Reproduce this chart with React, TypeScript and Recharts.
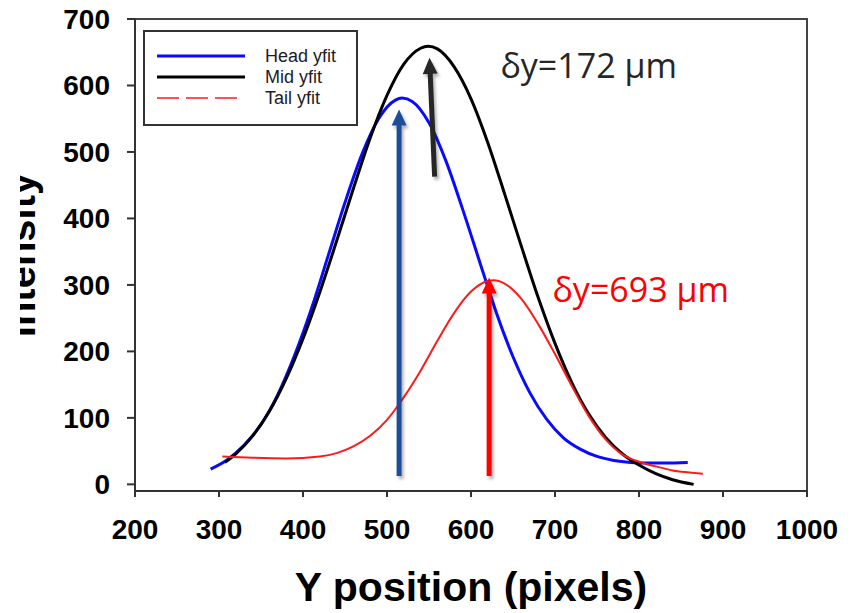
import React from 'react';
import {
  LineChart,
  Line,
  XAxis,
  YAxis,
  Legend,
  ReferenceLine,
  ReferenceArea,
  ReferenceDot,
  Label,
} from 'recharts';

// Gaussian fits of the intensity profile along Y, one per body segment
const headX = [290, 310, 330, 350, 370, 390, 410, 430, 450, 470, 490, 510, 518, 530, 550, 570, 590, 610, 620, 630, 650, 670, 690, 710, 730, 750, 770, 790, 810, 830, 858];
const headY = [23, 37, 59, 90, 135, 194, 264, 344, 424, 496, 550, 578, 581, 576, 544, 487, 414, 336, 297, 259, 192, 138, 98, 70, 53, 42, 36, 33, 32, 32, 33];

const midX = [307, 320, 340, 360, 380, 400, 420, 440, 460, 480, 500, 520, 540, 549, 560, 580, 600, 620, 640, 660, 680, 700, 720, 740, 760, 780, 800, 820, 840, 865];
const midY = [33, 46, 73, 110, 159, 219, 289, 366, 445, 521, 585, 632, 656, 659, 655, 628, 580, 514, 437, 358, 281, 212, 153, 106, 71, 46, 29, 16, 7, 0];

const tailX = [304, 340, 380, 420, 440, 460, 480, 500, 520, 540, 560, 580, 600, 620, 627, 640, 660, 680, 700, 720, 740, 760, 780, 800, 820, 840, 860, 876];
const tailY = [42, 40, 39, 42, 47, 57, 73, 97, 131, 171, 216, 258, 290, 306, 307, 302, 279, 241, 196, 148, 103, 68, 45, 34, 27, 21, 18, 16];

const xTicks = [200, 300, 400, 500, 600, 700, 800, 900, 1000];
const yTicks = [0, 100, 200, 300, 400, 500, 600, 700];

// Peak-marking arrows: tail point -> tip point, in data units
const arrowFromX = [514.4, 556.7, 621.6];
const arrowFromY = [12.5, 462.8, 12.5];
const arrowToX = [514.4, 550.6, 621.6];
const arrowToY = [563.7, 641.6, 311];
const arrowColors = ['#1f4e99', '#262626', '#ff0000'];

// Peak shift annotations (text start, baseline) in data units
const shiftText = ['δy=172 µm', 'δy=693 µm'];
const shiftX = [635, 697];
const shiftY = [612, 274.5];
const shiftColors = ['#262626', '#ff0000'];

const toPoints = (xs: number[], ys: number[]) => xs.map((x, i) => ({ x, y: ys[i] }));
const headData = toPoints(headX, headY);
const midData = toPoints(midX, midY);
const tailData = toPoints(tailX, tailY);

const AXIS_FONT = '"Liberation Sans", Arial, sans-serif';

const legendDash: Record<string, string | undefined> = {
  'Head yfit': undefined,
  'Mid yfit': undefined,
  'Tail yfit': '22 7',
};
const legendWidth: Record<string, number> = {
  'Head yfit': 3,
  'Mid yfit': 3,
  'Tail yfit': 1.6,
};

function renderLegend(props: any) {
  const payload = props.payload || [];
  return (
    <svg width={215} height={96} style={{ display: 'block' }}>
      <rect x={1} y={1} width={213} height={94} fill="#fff" stroke="#333" strokeWidth={2} />
      {payload.map((entry: any, i: number) => {
        const cy = 26 + i * 21;
        return (
          <g key={entry.value}>
            <line
              x1={14}
              x2={legendDash[entry.value] ? 96 : 102}
              y1={cy}
              y2={cy}
              stroke={entry.color}
              strokeWidth={legendWidth[entry.value] ?? 3}
              strokeDasharray={legendDash[entry.value]}
            />
            <text
              x={122}
              y={cy + 6}
              fontFamily={AXIS_FONT}
              fontSize={18}
              fill="#1c1c28"
            >
              {entry.value}
            </text>
          </g>
        );
      })}
    </svg>
  );
}

function renderYTitle(props: any) {
  const vb = props.viewBox || { x: 0, y: 0, width: 0, height: 0 };
  const bx = vb.x + 35;
  const cy = vb.y + vb.height / 2;
  return (
    <g>
      <defs>
        <clipPath id="y-title-clip">
          <rect x={vb.x + 20} y={0} width={200} height={613} />
        </clipPath>
      </defs>
      <g clipPath="url(#y-title-clip)">
        <text
          x={bx}
          y={cy}
          transform={`rotate(-90, ${bx}, ${cy})`}
          textAnchor="middle"
          fontFamily={AXIS_FONT}
          fontWeight="bold"
          fontSize={40}
          fill="#000"
        >
          Intensity
        </text>
      </g>
    </g>
  );
}

function ArrowShape(props: any) {
  const { x1, y1, x2, y2, color, id } = props;
  const dx = x2 - x1;
  const dy = y2 - y1;
  const len = Math.hypot(dx, dy) || 1;
  const ux = dx / len;
  const uy = dy / len;
  const nx = -uy;
  const ny = ux;
  const headLen = 16;
  const half = 7.5;
  const bx = x2 - ux * headLen;
  const by = y2 - uy * headLen;
  const pts = [
    `${x2},${y2}`,
    `${bx + nx * half},${by + ny * half}`,
    `${bx - nx * half},${by - ny * half}`,
  ].join(' ');
  return (
    <g>
      <defs>
        <filter id={id} x="-200%" y="-20%" width="500%" height="140%">
          <feDropShadow dx={2} dy={3} stdDeviation={1.8} floodColor="#000" floodOpacity={0.3} />
        </filter>
      </defs>
      <g filter={`url(#${id})`}>
        <line x1={x1} y1={y1} x2={bx + ux} y2={by + uy} stroke={color} strokeWidth={5} />
        <polygon points={pts} fill={color} />
      </g>
    </g>
  );
}

export default function App() {
  return (
    <div style={{ position: 'absolute', left: 0, top: 0, background: '#fff' }}>
      <LineChart
        width={854}
        height={613}
        margin={{ top: 19, right: 47, bottom: 0, left: 0 }}
      >
        <XAxis
          dataKey="x"
          type="number"
          domain={[200, 1000]}
          ticks={xTicks}
          interval={0}
          allowDataOverflow
          height={122}
          tickSize={6}
          tickMargin={22}
          axisLine={{ stroke: '#333', strokeWidth: 2 }}
          tickLine={{ stroke: '#333', strokeWidth: 2 }}
          tick={{ fontFamily: AXIS_FONT, fontWeight: 'bold', fontSize: 28, fill: '#000' }}
        >
          <Label
            value="Y position (pixels)"
            position="insideBottom"
            offset={12}
            style={{ fontFamily: AXIS_FONT, fontWeight: 'bold', fontSize: 41, fill: '#000' }}
          />
        </XAxis>
        <YAxis
          type="number"
          domain={[-10, 700]}
          ticks={yTicks}
          interval={0}
          allowDataOverflow
          width={135}
          tickSize={8}
          tickMargin={17}
          axisLine={{ stroke: '#333', strokeWidth: 2 }}
          tickLine={{ stroke: '#333', strokeWidth: 2 }}
          tick={{ fontFamily: AXIS_FONT, fontWeight: 'bold', fontSize: 28, fill: '#000' }}
        >
          <Label content={renderYTitle} />
        </YAxis>

        <ReferenceArea
          x1={200}
          x2={1000}
          y1={-10}
          y2={700}
          fill="none"
          stroke="#444"
          strokeWidth={2}
        />

        <Line
          data={headData}
          dataKey="y"
          name="Head yfit"
          type="monotone"
          stroke="#0a0aff"
          strokeWidth={3}
          dot={false}
          isAnimationActive={false}
        />
        <Line
          data={midData}
          dataKey="y"
          name="Mid yfit"
          type="monotone"
          stroke="#000"
          strokeWidth={3}
          dot={false}
          isAnimationActive={false}
        />
        <Line
          data={tailData}
          dataKey="y"
          name="Tail yfit"
          type="monotone"
          stroke="#ff1a1a"
          strokeWidth={2}
          dot={false}
          isAnimationActive={false}
        />

        {arrowFromX.map((fx, i) => (
          <ReferenceLine
            key={`arrow-${i}`}
            segment={[
              { x: fx, y: arrowFromY[i] },
              { x: arrowToX[i], y: arrowToY[i] },
            ]}
            ifOverflow="visible"
            stroke={arrowColors[i]}
            shape={(p: any) => <ArrowShape {...p} color={arrowColors[i]} id={`arrow-shadow-${i}`} />}
          />
        ))}

        {shiftText.map((t, i) => (
          <ReferenceDot
            key={`shift-${i}`}
            x={shiftX[i]}
            y={shiftY[i]}
            r={0}
            ifOverflow="visible"
            shape={(p: any) => (
              <text
                x={p.cx}
                y={p.cy}
                fontFamily='"Open Sans", "Noto Sans", sans-serif'
                fontSize={34}
                fill={shiftColors[i]}
              >
                {t}
              </text>
            )}
          />
        ))}

        <Legend
          content={renderLegend}
          layout="vertical"
          align="center"
          verticalAlign="middle"
          wrapperStyle={{ left: 143, top: 30, width: 215, height: 96 }}
        />
      </LineChart>
    </div>
  );
}
